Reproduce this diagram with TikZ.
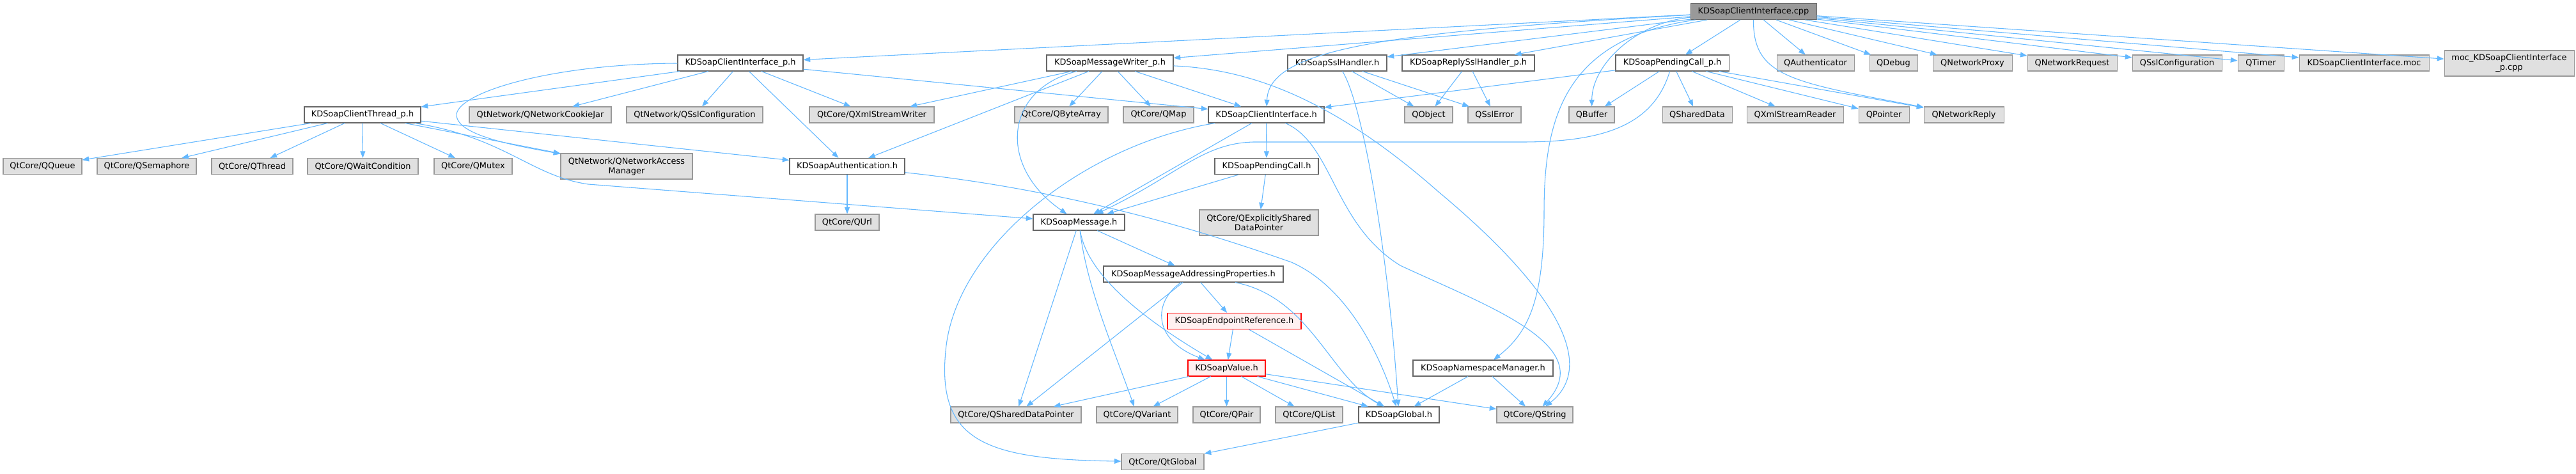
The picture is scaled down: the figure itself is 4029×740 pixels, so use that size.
\documentclass[tikz,border=0pt]{standalone}
\usepackage{fontspec}
\setmainfont{DejaVu Sans}
\usepackage{tikz}
\usetikzlibrary{arrows.meta}
\definecolor{edgeblue}{RGB}{99,184,255}
\definecolor{boxgrey}{RGB}{224,224,224}
\definecolor{rimgrey}{RGB}{153,153,153}
\definecolor{rimdark}{RGB}{102,102,102}
\definecolor{truncred}{RGB}{255,0,0}
\definecolor{truncfill}{RGB}{255,240,240}

\begin{document}
\begin{tikzpicture}[x=0.75pt, y=-0.75pt,
  box/.style={line width=0.8pt, font=\fontsize{9.7}{11.3}\selectfont, inner xsep=2pt, inner ysep=2pt, minimum height=18.75pt},
  hfile/.style={box, draw=rimdark, fill=white},
  sys/.style={box, draw=rimgrey, fill=boxgrey},
  mainfile/.style={box, draw=rimdark, fill=rimgrey},
  trunc/.style={box, draw=truncred, fill=truncfill},
  tall/.style={minimum height=30pt, align=center},
  bw/.style={minimum width=#1*0.75pt},
  inc/.style={draw=edgeblue, line width=0.8pt, -{Triangle[length=8pt,width=6pt]}}]

  \fill[white] (0,0) rectangle (4029,740);
  \useasboundingbox (0,0) rectangle (4029,740);

  % The file itself
  \node[mainfile, bw=197] (cpp) at (2742.5,18) {KDSoapClientInterface.cpp};

  % Row 1: direct includes
  \node[hfile, bw=196] (cip) at (1158,98.5) {KDSoapClientInterface\_p.h};
  \node[hfile, bw=198] (mwp) at (1736,98.5) {KDSoapMessageWriter\_p.h};
  \node[hfile, bw=155] (ssl) at (2091.5,98.5) {KDSoapSslHandler.h};
  \node[hfile, bw=207] (rssl) at (2296.5,98.5) {KDSoapReplySslHandler\_p.h};
  \node[hfile, bw=177] (pcp) at (2615.5,98.5) {KDSoapPendingCall\_p.h};
  \node[sys, bw=121] (qauth) at (2839.5,98.5) {QAuthenticator};
  \node[sys, bw=75] (qdebug) at (2961.5,98.5) {QDebug};
  \node[sys, bw=124] (qproxy) at (3085,98.5) {QNetworkProxy};
  \node[sys, bw=140] (qrequest) at (3241,98.5) {QNetworkRequest};
  \node[sys, bw=140] (qsslconf) at (3405,98.5) {QSslConfiguration};
  \node[sys, bw=72] (qtimer) at (3536,98.5) {QTimer};
  \node[sys, bw=203] (moc) at (3697.5,98.5) {KDSoapClientInterface.moc};
  \node[sys, tall, bw=203] (mocp) at (3924.5,99) {moc\_KDSoapClientInterface\\\_p.cpp};

  % Row 2
  \node[hfile, bw=182] (thread) at (567,179.5) {KDSoapClientThread\_p.h};
  \node[sys, bw=222] (cookie) at (845,179.5) {QtNetwork/QNetworkCookieJar};
  \node[sys, bw=213] (nsslconf) at (1086.5,179.5) {QtNetwork/QSslConfiguration};
  \node[sys, bw=195] (xmlw) at (1363.5,179.5) {QtCore/QXmlStreamWriter};
  \node[sys, bw=146] (bytearr) at (1660,179.5) {QtCore/QByteArray};
  \node[sys, bw=110] (qmap) at (1812,179.5) {QtCore/QMap};
  \node[hfile, bw=181] (ci) at (1980.5,179.5) {KDSoapClientInterface.h};
  \node[sys, bw=75] (qobject) at (2234.5,179.5) {QObject};
  \node[sys, bw=83] (qsslerr) at (2337.5,179.5) {QSslError};
  \node[sys, bw=71] (qbuffer) at (2489.5,179.5) {QBuffer};
  \node[sys, bw=109] (qshdata) at (2654.5,179.5) {QSharedData};
  \node[sys, bw=151] (xmlr) at (2807.5,179.5) {QXmlStreamReader};
  \node[sys, bw=79] (qpointer) at (2946.5,179.5) {QPointer};
  \node[sys, bw=125] (qreply) at (3071.5,179.5) {QNetworkReply};

  % Row 3
  \node[sys, bw=123] (qqueue) at (66.5,260) {QtCore/QQueue};
  \node[sys, bw=155] (qsem) at (229.5,260) {QtCore/QSemaphore};
  \node[sys, bw=127] (qthread) at (394.5,260) {QtCore/QThread};
  \node[sys, bw=173] (qwait) at (567.5,260) {QtCore/QWaitCondition};
  \node[sys, bw=122] (qmutex) at (740,260) {QtCore/QMutex};
  \node[sys, tall, bw=206] (qnam) at (980,260) {QtNetwork/QNetworkAccess\\Manager};
  \node[hfile, bw=180] (auth) at (1325,260) {KDSoapAuthentication.h};
  \node[hfile, bw=162] (pc) at (1981,260) {KDSoapPendingCall.h};

  % Row 4
  \node[sys, bw=100] (qurl) at (1325,347.5) {QtCore/QUrl};
  \node[hfile, bw=143] (msg) at (1687.5,347.5) {KDSoapMessage.h};
  \node[sys, tall, bw=186] (qexpl) at (1969,348) {QtCore/QExplicitlyShared\\DataPointer};

  % Rows 5-7: message internals
  \node[hfile, bw=281] (map) at (1866.5,428.5) {KDSoapMessageAddressingProperties.h};
  \node[trunc, bw=209] (epr) at (1930.5,502) {KDSoapEndpointReference.h};
  \node[trunc, bw=121] (value) at (1918.5,575.5) {KDSoapValue.h};
  \node[hfile, bw=219] (nsm) at (2319.5,575.5) {KDSoapNamespaceManager.h};

  % Row 8-9
  \node[sys, bw=204] (qshdp) at (1589,648.5) {QtCore/QSharedDataPointer};
  \node[sys, bw=127] (qvariant) at (1778.5,648.5) {QtCore/QVariant};
  \node[sys, bw=105] (qpair) at (1918.5,648.5) {QtCore/QPair};
  \node[sys, bw=105] (qlist) at (2047.5,648.5) {QtCore/QList};
  \node[hfile, bw=126] (global) at (2188,648.5) {KDSoapGlobal.h};
  \node[sys, bw=119] (qstring) at (2400.5,648.5) {QtCore/QString};
  \node[sys, bw=129] (qtglobal) at (1818.5,722) {QtCore/QtGlobal};

  % Includes of the .cpp
  \draw[inc] (cpp) -- (cip);
  \draw[inc] (cpp) -- (mwp);
  \draw[inc] (cpp) -- (ssl);
  \draw[inc] (cpp) -- (rssl);
  \draw[inc] (cpp) -- (pcp);
  \draw[inc] (cpp) .. controls (2150,50) and (1985,80) .. (ci);
  \draw[inc] (cpp) .. controls (2560,35) and (2490,100) .. (qbuffer);
  \draw[inc] (cpp) .. controls (2450,60) and (2415,180) .. (2415,330) .. controls (2415,470) and (2390,520) .. (nsm);
  \draw[inc] (cpp) .. controls (2742,120) and (2800,128) .. (qreply);
  \draw[inc] (cpp) -- (qauth);
  \draw[inc] (cpp) -- (qdebug);
  \draw[inc] (cpp) -- (qproxy);
  \draw[inc] (cpp) -- (qrequest);
  \draw[inc] (cpp) -- (qsslconf);
  \draw[inc] (cpp) -- (qtimer);
  \draw[inc] (cpp) -- (moc);
  \draw[inc] (cpp) -- (mocp);

  % KDSoapClientInterface_p.h
  \draw[inc] (cip) -- (thread);
  \draw[inc] (cip) -- (cookie);
  \draw[inc] (cip) -- (nsslconf);
  \draw[inc] (cip) -- (xmlw);
  \draw[inc] (cip) -- (auth);
  \draw[inc] (cip) -- (ci);
  \draw[inc] (cip) .. controls (850,100) and (700,150) .. (715,185) .. controls (725,215) and (820,230) .. (qnam);

  % KDSoapClientThread_p.h
  \draw[inc] (thread) -- (qqueue);
  \draw[inc] (thread) -- (qsem);
  \draw[inc] (thread) -- (qthread);
  \draw[inc] (thread) -- (qwait);
  \draw[inc] (thread) -- (qmutex);
  \draw[inc] (thread) -- (qnam);
  \draw[inc] (thread) -- (auth);
  \draw[inc] (thread) .. controls (790,215) and (830,275) .. (920,288) -- (msg);

  % KDSoapMessageWriter_p.h
  \draw[inc] (mwp) -- (xmlw);
  \draw[inc] (mwp) -- (auth);
  \draw[inc] (mwp) -- (bytearr);
  \draw[inc] (mwp) -- (qmap);
  \draw[inc] (mwp) -- (ci);
  \draw[inc] (mwp) .. controls (1570,140) and (1560,260) .. (msg);
  \draw[inc] (mwp) .. controls (1950,108) and (2080,150) .. (2250,300) .. controls (2430,450) and (2500,570) .. (qstring);

  % SSL handlers
  \draw[inc] (ssl) -- (qobject);
  \draw[inc] (ssl) -- (qsslerr);
  \draw[inc] (ssl) .. controls (2130,160) and (2170,380) .. (global);
  \draw[inc] (rssl) -- (qobject);
  \draw[inc] (rssl) -- (qsslerr);

  % KDSoapPendingCall_p.h
  \draw[inc] (pcp) -- (ci);
  \draw[inc] (pcp) -- (qbuffer);
  \draw[inc] (pcp) -- (qshdata);
  \draw[inc] (pcp) -- (xmlr);
  \draw[inc] (pcp) -- (qpointer);
  \draw[inc] (pcp) -- (qreply);
  \draw[inc] (pcp) .. controls (2585,200) and (2500,222) .. (2380,222) -- (1960,222) .. controls (1880,224) and (1840,275) .. (msg);

  % KDSoapClientInterface.h
  \draw[inc] (ci) -- (msg);
  \draw[inc] (ci) -- (pc);
  \draw[inc] (ci) .. controls (1700,225) and (1500,380) .. (1480,540) .. controls (1462,690) and (1540,718) .. (qtglobal);
  \draw[inc] (ci) .. controls (2085,225) and (2085,350) .. (2190,415) .. controls (2330,480) and (2500,540) .. (qstring);

  % KDSoapAuthentication.h and KDSoapPendingCall.h
  \draw[inc] (auth) -- (qurl);
  \draw[inc] (auth) .. controls (1700,300) and (1920,375) .. (2020,410) .. controls (2110,450) and (2160,560) .. (global);
  \draw[inc] (pc) -- (msg);
  \draw[inc] (pc) -- (qexpl);

  % KDSoapMessage.h
  \draw[inc] (msg) -- (qshdp);
  \draw[inc] (msg) -- (map);
  \draw[inc] (msg) .. controls (1700,450) and (1740,540) .. (qvariant);
  \draw[inc] (msg) .. controls (1700,430) and (1790,500) .. (value);

  % KDSoapMessageAddressingProperties.h
  \draw[inc] (map) -- (qshdp);
  \draw[inc] (map) -- (epr);
  \draw[inc] (map) .. controls (1805,470) and (1800,530) .. (value);
  \draw[inc] (map) .. controls (2050,465) and (2080,590) .. (global);

  % KDSoapEndpointReference.h
  \draw[inc] (epr) -- (value);
  \draw[inc] (epr) -- (global);

  % KDSoapValue.h
  \draw[inc] (value) -- (qshdp);
  \draw[inc] (value) -- (qvariant);
  \draw[inc] (value) -- (qpair);
  \draw[inc] (value) -- (qlist);
  \draw[inc] (value) -- (global);
  \draw[inc] (value) -- (qstring);

  % KDSoapNamespaceManager.h and KDSoapGlobal.h
  \draw[inc] (nsm) -- (global);
  \draw[inc] (nsm) -- (qstring);
  \draw[inc] (global) -- (qtglobal);
\end{tikzpicture}
\end{document}
